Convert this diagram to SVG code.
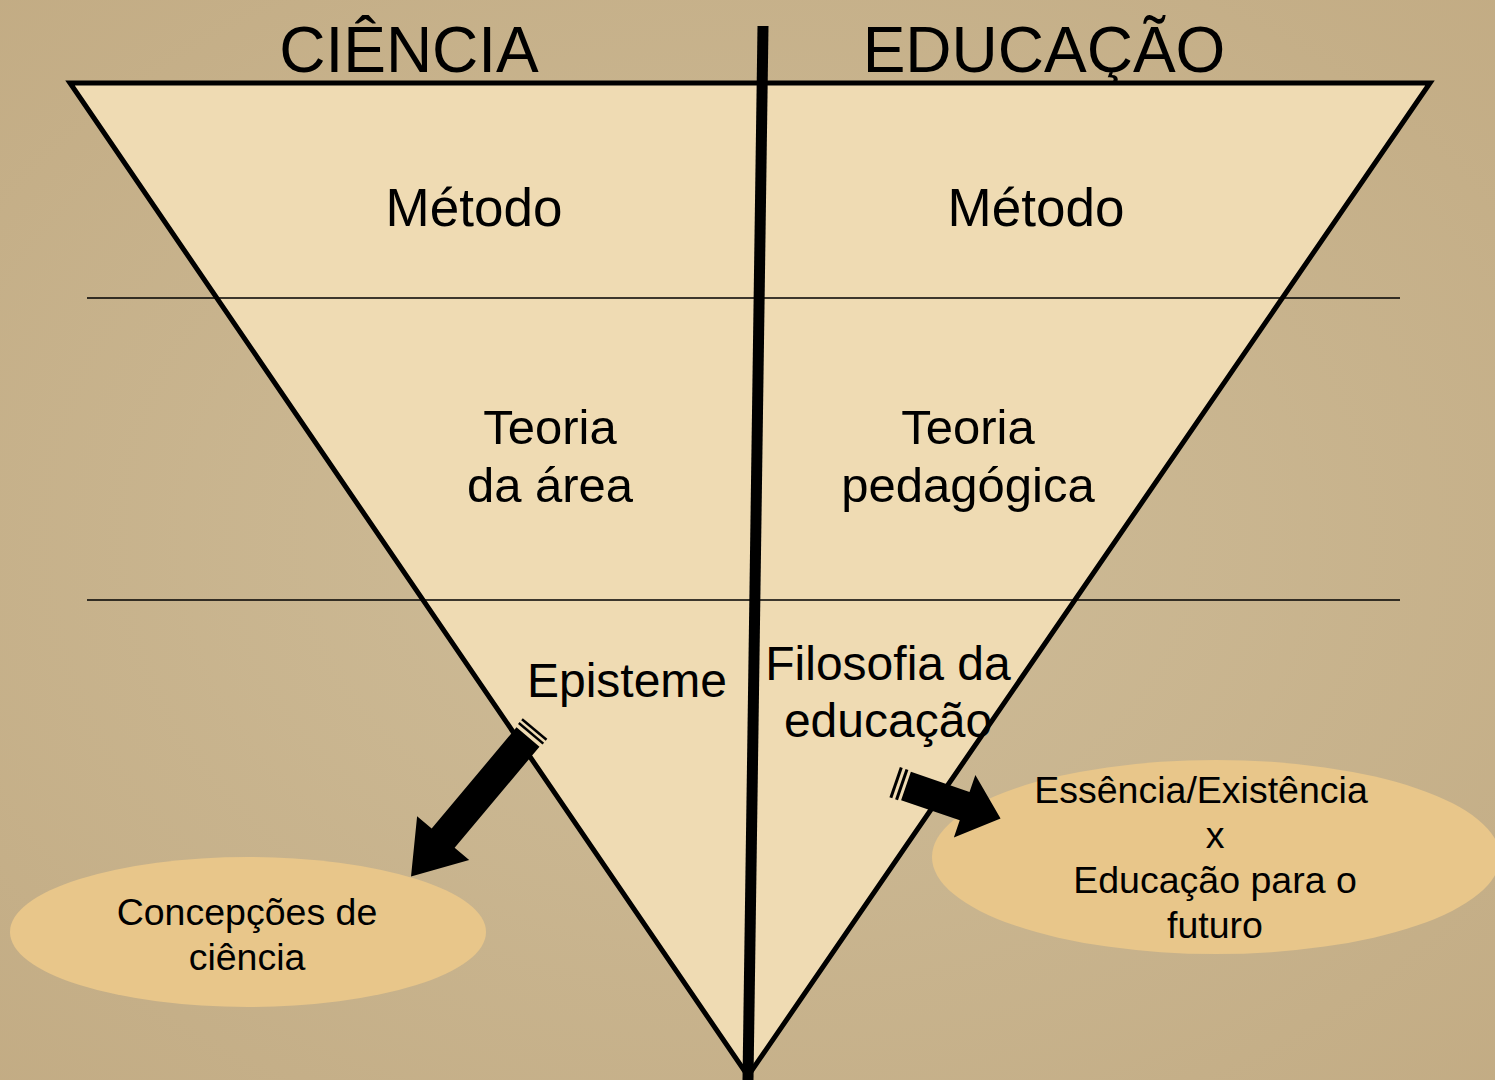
<svg xmlns="http://www.w3.org/2000/svg" width="1495" height="1080" viewBox="0 0 1495 1080">
<style>
.t{font-family:"Liberation Sans",Arial,sans-serif;fill:#000;text-anchor:middle}
.h{font-size:64px}
.m{font-size:53px}
.s{font-size:49px}
.p{font-size:48px}
.e{font-size:37.5px}
.thin{stroke:#000;stroke-width:1.6;fill:none}
.ell{fill:#e8c68a}
</style>
<defs>
<radialGradient id="bg" cx="0.5" cy="0.5" r="0.75">
<stop offset="0" stop-color="#cfbd99"/>
<stop offset="1" stop-color="#c2ab83"/>
</radialGradient>
</defs>
<rect width="1495" height="1080" fill="url(#bg)"/>
<g id="triangle">
<polygon points="70,83 1430,83 748,1076" fill="#efdbb3" stroke="#000" stroke-width="5" stroke-linejoin="miter"/>
</g>
<g id="metodo-c"><text class="t m" x="474" y="226">Método</text></g>
<g id="metodo-e"><text class="t m" x="1036" y="226">Método</text></g>
<g id="teoria-c"><text class="t s" x="550" y="444">Teoria</text><text class="t s" x="550" y="502">da área</text></g>
<g id="teoria-e"><text class="t s" x="968" y="444">Teoria</text><text class="t s" x="968" y="502">pedagógica</text></g>
<g id="episteme"><text class="t p" x="627" y="697">Episteme</text></g>
<g id="filosofia"><text class="t p" x="888" y="680">Filosofia da</text><text class="t p" x="888" y="737">educação</text></g>
<g id="concepcoes">
<ellipse class="ell" cx="248" cy="932" rx="238" ry="75"/>
<text class="t e" x="247" y="925">Concepções de</text>
<text class="t e" x="247" y="970">ciência</text>
</g>
<g id="essencia">
<ellipse class="ell" cx="1216" cy="857" rx="284" ry="97"/>
<text class="t e" x="1201" y="803">Essência/Existência</text>
<text class="t e" x="1215" y="848">x</text>
<text class="t e" x="1215" y="893">Educação para o</text>
<text class="t e" x="1215" y="938">futuro</text>
</g>
<g id="connectors">
<line class="thin" x1="87" y1="298" x2="1400" y2="298"/>
<line class="thin" x1="87" y1="600" x2="1400" y2="600"/>
<line x1="763" y1="26" x2="748" y2="1080" stroke="#000" stroke-width="11"/>
<g transform="translate(528,737) rotate(130)" fill="#000">
<polygon points="0,-15 132,-15 132,-34 182,0 132,34 132,15 0,15"/>
<rect x="-6" y="-16" width="2.5" height="32"/>
<rect x="-11" y="-16" width="2.5" height="32"/>
</g>
<g transform="translate(906,786) rotate(19)" fill="#000">
<polygon points="0,-15 62,-15 62,-33 100,0 62,33 62,15 0,15"/>
<rect x="-6" y="-16" width="3" height="32"/>
<rect x="-12" y="-16" width="3" height="32"/>
</g>
</g>
<g id="titles">
<text class="t h" x="409" y="72">CIÊNCIA</text>
<text class="t h" x="1044" y="72">EDUCAÇÃO</text>
</g>
</svg>
